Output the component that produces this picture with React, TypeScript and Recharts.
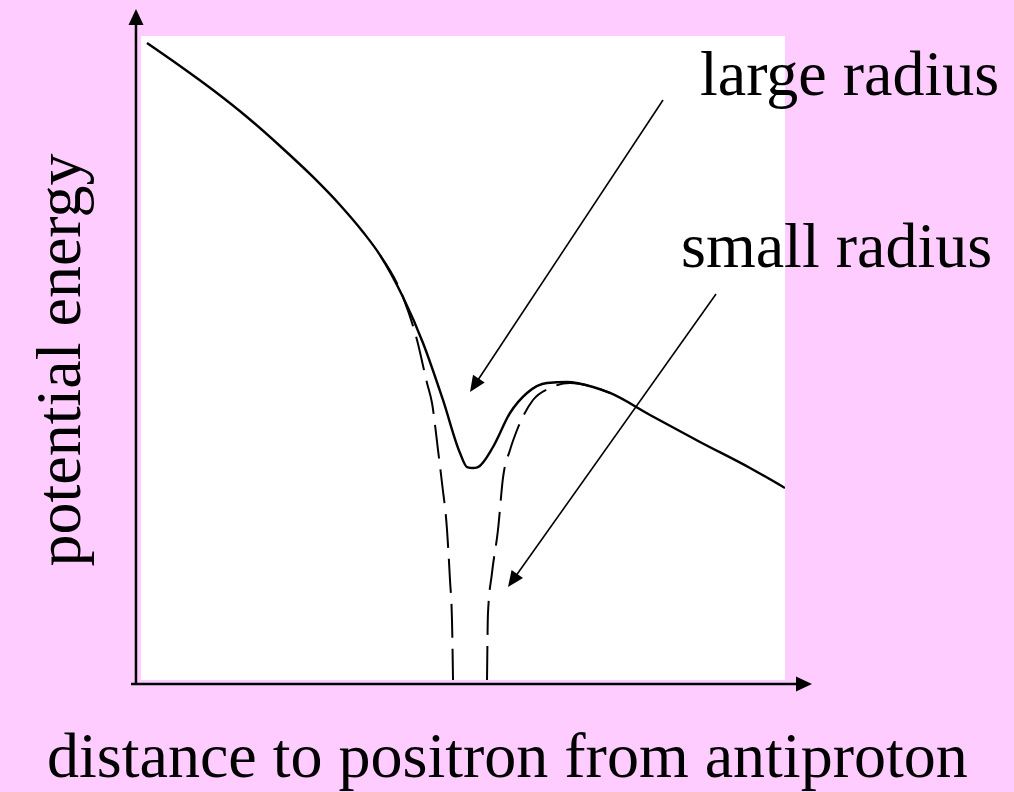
import React from 'react';
import { ComposedChart, Line, XAxis, YAxis, CartesianGrid, ReferenceLine } from 'recharts';

// Potential energy vs. distance, in arbitrary units (0..100 on both axes)
const largeRadiusX = [0.93, 6.06, 11.18, 16.46, 21.58, 26.71, 30.9, 34.47, 37.11, 40.68, 43.79, 46.89, 49.53, 50.62, 51.55, 52.33, 54.66, 57.3, 59.94, 63.04, 66.15, 70.19, 72.83, 79.04, 86.8, 94.57, 100];
const largeRadiusY = [98.91, 95.34, 91.61, 87.42, 82.92, 78.11, 73.76, 69.57, 65.99, 59.47, 52.33, 43.48, 35.25, 33.07, 32.92, 33.07, 36.18, 41.46, 44.57, 46.12, 46.27, 45.5, 44.57, 41.15, 36.96, 32.92, 29.81];

// Small radius: the well drops off the bottom of the plot, so two branches
const smallLeftX = [37.11, 40.68, 42.86, 44.41, 45.19, 46.12, 46.74, 47.52, 47.98, 48.29, 48.45];
const smallLeftY = [65.99, 59.47, 52.8, 46.12, 43.01, 35.71, 30.59, 23.29, 15.53, 9.32, 0];
const smallRightX = [53.73, 53.88, 54.5, 55.43, 56.21, 57.3, 58.39, 60.87, 63.51, 66.61, 70.19, 72.83];
const smallRightY = [0, 10.4, 16.61, 23.29, 31.37, 35.71, 38.82, 43.48, 45.34, 46.12, 45.5, 44.57];

// Annotation arrows: [startX, startY, tipX, tipY]
const largeArrow = [81.06, 90.06, 51.09, 44.72];
const smallArrow = [89.29, 59.94, 56.99, 14.44];

const largeRadius = largeRadiusX.map((x, i) => ({ x, y: largeRadiusY[i] }));
const smallRadius = [
  ...smallLeftX.map((x, i) => ({ x, y: smallLeftY[i] })),
  { x: 51, y: null },
  ...smallRightX.map((x, i) => ({ x, y: smallRightY[i] })),
];

const W = 1014;
const H = 792;
const BG = '#FFCCFF';
const FONT = '"Liberation Serif", "Times New Roman", serif';

const arrow = (head: number, half: number, width: number) => (props: any) => {
  const { x1, y1, x2, y2 } = props;
  const dx = x2 - x1;
  const dy = y2 - y1;
  const len = Math.hypot(dx, dy) || 1;
  const ux = dx / len;
  const uy = dy / len;
  const bx = x2 - ux * head;
  const by = y2 - uy * head;
  const px = -uy * half;
  const py = ux * half;
  return (
    <g>
      <line x1={x1} y1={y1} x2={bx + ux} y2={by + uy} stroke="#000" strokeWidth={width} />
      <polygon points={`${x2},${y2} ${bx + px},${by + py} ${bx - px},${by - py}`} fill="#000" />
    </g>
  );
};

export default function App() {
  return (
    <div style={{ position: 'absolute', left: 0, top: 0, width: W, height: H, background: BG }}>
      <ComposedChart
        width={W}
        height={H}
        margin={{ top: 36, right: 229, bottom: 112, left: 141 }}
        style={{ background: BG }}
      >
        <CartesianGrid fill="#ffffff" stroke="none" horizontal={false} vertical={false} />
        <XAxis type="number" dataKey="x" domain={[0, 100]} hide allowDataOverflow />
        <YAxis type="number" dataKey="y" domain={[0, 100]} hide allowDataOverflow />

        <Line
          data={smallRadius}
          dataKey="y"
          type="monotoneX"
          stroke="#000"
          strokeWidth={2}
          strokeDasharray="34 11"
          dot={false}
          connectNulls={false}
          isAnimationActive={false}
        />
        <Line
          data={largeRadius}
          dataKey="y"
          type="monotoneX"
          stroke="#000"
          strokeWidth={2.4}
          dot={false}
          isAnimationActive={false}
        />

        {/* axes with arrowheads */}
        <ReferenceLine
          ifOverflow="visible"
          segment={[{ x: -0.78, y: -0.62 }, { x: -0.78, y: 104.19 }]}
          shape={arrow(16, 7.5, 2.5)}
        />
        <ReferenceLine
          ifOverflow="visible"
          segment={[{ x: -1.55, y: -0.62 }, { x: 104.19, y: -0.62 }]}
          shape={arrow(16, 7.5, 2.5)}
        />

        {/* annotation arrows */}
        <ReferenceLine
          ifOverflow="visible"
          segment={[{ x: largeArrow[0], y: largeArrow[1] }, { x: largeArrow[2], y: largeArrow[3] }]}
          shape={arrow(16, 7, 1.6)}
        />
        <ReferenceLine
          ifOverflow="visible"
          segment={[{ x: smallArrow[0], y: smallArrow[1] }, { x: smallArrow[2], y: smallArrow[3] }]}
          shape={arrow(16, 7, 1.6)}
        />

        <text x={700} y={95} fontFamily={FONT} fontSize={64} fill="#000">large radius</text>
        <text x={681} y={267} fontFamily={FONT} fontSize={64} fill="#000">small radius</text>
        <text x={47} y={777} fontFamily={FONT} fontSize={64} fill="#000">distance to positron from antiproton</text>
        <text
          x={80}
          y={360}
          fontFamily={FONT}
          fontSize={64}
          fill="#000"
          textAnchor="middle"
          transform="rotate(-90 80 360)"
        >
          potential energy
        </text>
      </ComposedChart>
    </div>
  );
}
